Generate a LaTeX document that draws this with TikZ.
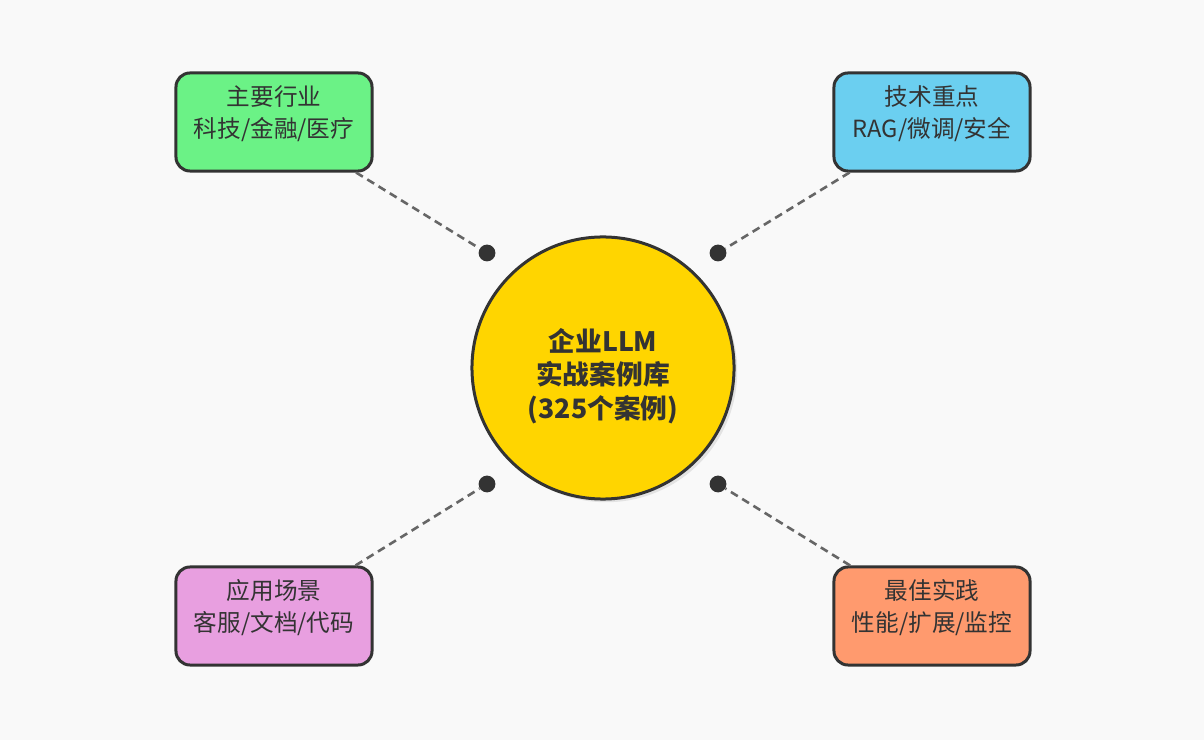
\documentclass[tikz,border=0pt]{standalone}
\usepackage{fontspec}
\setmainfont{Noto Sans CJK SC}
\definecolor{paperbg}{RGB}{249,249,249}
\definecolor{inkdark}{RGB}{51,51,51}
\definecolor{linkgray}{RGB}{102,102,102}
\definecolor{hubyellow}{RGB}{255,213,0}
\definecolor{softgreen}{RGB}{107,242,134}
\definecolor{softblue}{RGB}{107,207,240}
\definecolor{softpink}{RGB}{232,159,224}
\definecolor{softorange}{RGB}{255,154,110}
\usetikzlibrary{shadows}

\begin{document}
\begin{tikzpicture}[x=0.025cm,y=-0.025cm,
  every node/.style={text=inkdark},
  card/.style={draw=inkdark,line width=0.075cm,rounded corners=0.35cm,minimum width=4.9cm,minimum height=2.45cm},
  cardtext/.style={align=center,font=\fontsize{16.8}{22.8}\selectfont,yshift=0.2cm},
  hub/.style={circle,draw=inkdark,line width=0.075cm,fill=hubyellow,minimum size=6.55cm,
    drop shadow={shadow xshift=0.08cm,shadow yshift=-0.08cm,opacity=0.18}},
  hubtext/.style={align=center,font=\bfseries\fontsize{19}{23.8}\selectfont,yshift=-0.2cm},
  dot/.style={circle,fill=inkdark,inner sep=0pt,minimum size=0.42cm},
  link/.style={draw=linkgray,line width=0.065cm,dash pattern=on 0.2cm off 0.13cm}]
\fill[paperbg] (0,0) rectangle (1204,740);
\useasboundingbox (0,0) rectangle (1204,740);
% centre
\node[hub,label={[hubtext]center:企业LLM\\实战案例库\\(325个案例)}] (hub) at (603,368) {};
% four cards
\node[card,fill=softgreen,label={[cardtext]center:主要行业\\科技/金融/医疗}] (ind) at (274,122) {};
\node[card,fill=softblue,label={[cardtext]center:技术重点\\RAG/微调/安全}] (tech) at (932,122) {};
\node[card,fill=softpink,label={[cardtext]center:应用场景\\客服/文档/代码}] (use) at (274,616) {};
\node[card,fill=softorange,label={[cardtext]center:最佳实践\\性能/扩展/监控}] (best) at (932,616) {};
% end dots
\node[dot] (dind) at (487,253) {};
\node[dot] (dtech) at (718,253) {};
\node[dot] (duse) at (487,484) {};
\node[dot] (dbest) at (718,484) {};
\draw[link] (ind) -- (dind);
\draw[link] (tech) -- (dtech);
\draw[link] (use) -- (duse);
\draw[link] (best) -- (dbest);
\end{tikzpicture}
\end{document}
